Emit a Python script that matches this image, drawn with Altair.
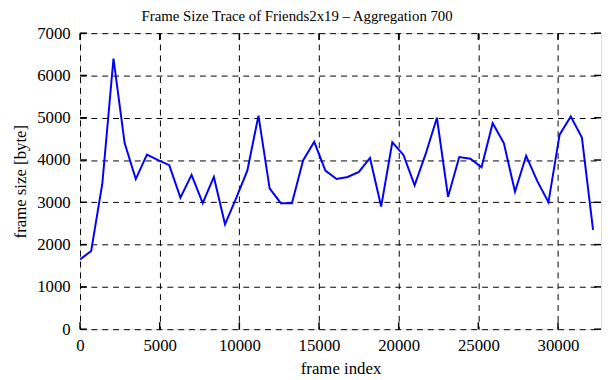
import altair as alt
import pandas as pd

frame_index = [i * 700 for i in range(47)]
frame_size = [1650, 1850, 3450, 6400, 4400, 3550, 4130, 4000, 3880, 3110,
              3650, 2980, 3600, 2480, 3100, 3750, 5050, 3330, 2980, 2980,
              3990, 4430, 3750, 3550, 3600, 3720, 4050, 2900, 4420, 4120,
              3400, 4150, 5000, 3130, 4070, 4030, 3830, 4870, 4400, 3250,
              4100, 3500, 3000, 4600, 5030, 4530, 2350]
x_ticks = [0, 5000, 10000, 15000, 20000, 25000, 30000]
y_ticks = [0, 1000, 2000, 3000, 4000, 5000, 6000, 7000]

FONT = "Liberation Serif"
W, H = 528, 300

df = pd.DataFrame({"frame": frame_index, "size": frame_size})
xt = pd.DataFrame({"t": x_ticks})
yt = pd.DataFrame({"t": y_ticks})

xscale = alt.Scale(domain=[0, 32700], nice=False, zero=False)
yscale = alt.Scale(domain=[0, 7000], nice=False)

line = alt.Chart(df).mark_line(color="#0000ff", strokeWidth=2, clip=True).encode(
    x=alt.X("frame:Q", scale=xscale,
            axis=alt.Axis(title="frame index", values=x_ticks, format="d", grid=True,
                          labelPadding=9, titlePadding=7, labelFlush=False)),
    y=alt.Y("size:Q", scale=yscale,
            axis=alt.Axis(title="frame size [byte]", values=y_ticks, format="d", grid=True,
                          labelPadding=10, titlePadding=7)),
)

xt_bottom = alt.Chart(xt).mark_rule(color="black", strokeWidth=1.5).encode(
    x=alt.X("t:Q", scale=xscale), y=alt.value(H), y2=alt.value(H - 7))
xt_top = alt.Chart(xt).mark_rule(color="black", strokeWidth=1.5).encode(
    x=alt.X("t:Q", scale=xscale), y=alt.value(0), y2=alt.value(7))
yt_left = alt.Chart(yt).mark_rule(color="black", strokeWidth=1.5).encode(
    y=alt.Y("t:Q", scale=yscale), x=alt.value(0), x2=alt.value(7))
yt_right = alt.Chart(yt).mark_rule(color="black", strokeWidth=1.5).encode(
    y=alt.Y("t:Q", scale=yscale), x=alt.value(W), x2=alt.value(W - 7))

chart = alt.layer(line, xt_bottom, xt_top, yt_left, yt_right).properties(
    width=W, height=H,
    title=alt.Title("Frame Size Trace of Friends2x19 \u2013 Aggregation 700",
                    font=FONT, fontSize=15, fontWeight="normal", color="black",
                    anchor="middle", dx=-44, offset=0),
    autosize=alt.AutoSizeParams(type="none"),
    padding={"left": 73, "top": 23, "right": 2, "bottom": 49},
).configure_view(stroke="black", strokeWidth=2.5).configure(
    background="white"
).configure_axis(
    gridDash=[6, 5], gridColor="black", gridOpacity=1, gridWidth=1,
    tickSize=0, domain=False,
    labelFont=FONT, labelFontSize=17, labelColor="black",
    titleFont=FONT, titleFontSize=17, titleFontWeight="normal", titleColor="black",
)

chart.save("out.html", embed_options={"renderer": "svg", "actions": False})
